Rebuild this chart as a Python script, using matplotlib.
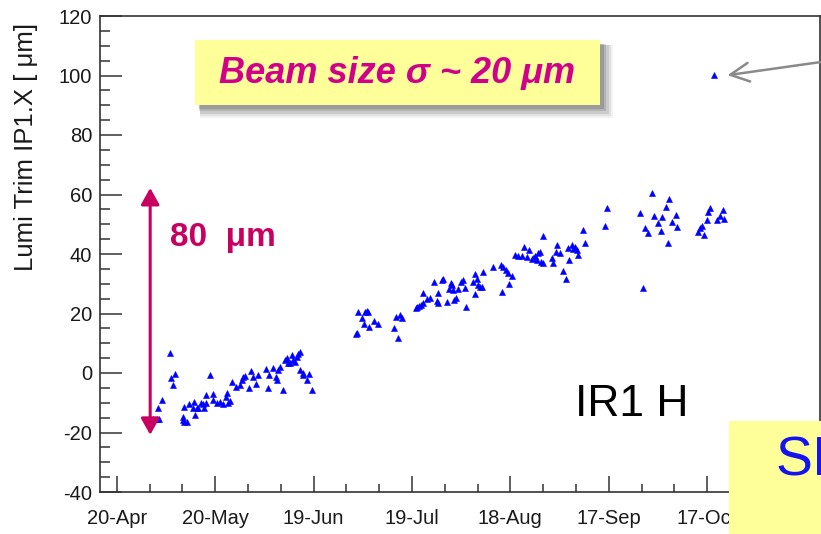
import numpy as np
import pandas as pd
import matplotlib
matplotlib.use("Agg")
import matplotlib.pyplot as plt
import matplotlib.dates as mdates
from matplotlib.patches import Rectangle
from matplotlib.ticker import FixedLocator, MultipleLocator

plt.rcParams['font.family'] = ['Liberation Sans', 'DejaVu Sans']
plt.rcParams['axes.unicode_minus'] = False

# ---- data: days since 20-Apr-2011 and lumi trim values [um]
base_date = "2011-04-20"
days = [11.2, 12.2, 13.0, 12.7, 13.7, 16.3, 16.6, 17.1, 17.8, 20.1, 20.6, 21.3, 20.3, 20.5,
        22.0, 23.6, 23.4, 24.4, 24.0, 25.6, 26.4, 27.2, 24.9, 26.6, 27.1, 28.4, 29.3, 29.5,
        30.7, 31.5, 32.3, 33.3, 33.5, 34.0, 34.5, 35.1, 36.4, 37.6, 38.1, 38.6, 39.1, 40.4,
        40.9, 41.6, 42.5, 43.2, 45.5, 46.3, 46.2, 47.7, 49.3, 49.8, 48.6, 49.0, 50.6, 51.3,
        51.8, 52.3, 52.8, 53.4, 53.8, 54.4, 54.9, 55.4, 55.9, 55.9, 56.7, 56.9, 57.9, 58.7,
        59.5,
        73.0, 73.2, 73.7, 75.7, 76.4, 76.7, 74.7, 75.4, 77.0, 78.5, 79.8, 84.6, 85.1, 86.4,
        86.9, 85.9, 91.2, 91.6, 92.3, 92.7, 93.5, 93.5, 94.7, 95.5, 96.8, 97.9, 98.0, 97.7,
        99.1, 99.6, 100.8, 101.4, 102.1, 101.8, 102.4, 102.8, 103.4, 104.0, 105.0, 105.5,
        106.2, 106.5, 108.7, 109.8, 109.2, 109.2, 110.2, 110.8, 111.3, 111.8, 114.8, 117.2,
        117.9, 118.7, 119.4, 120.4, 119.6, 117.6,
        121.4, 122.4, 123.5, 124.3, 125.0, 125.8, 126.5, 127.0, 127.5, 128.0, 128.5, 129.1,
        129.3, 129.9, 130.1, 132.6, 133.1, 134.1, 133.9, 135.2, 136.2, 137.0, 138.0, 137.7,
        138.7, 139.2, 139.7, 140.2, 140.7, 142.0, 142.8, 148.9, 149.6,
        163.1, 168.4, 167.4, 159.5, 163.8, 166.2, 170.5, 169.2, 164.9, 161.1, 170.7, 165.9,
        162.1, 168.2, 160.4,
        180.9, 180.4, 184.8, 183.9, 180.1, 183.1, 185.1, 178.4, 177.8, 177.3, 179.1,
        182.2]
values = [-15.6, -15.6, -15.6, -11.7, -9.1, 6.8, -1.6, -4.0, -0.2, -15.8, -16.4, -16.6, -14.7,
          -11.3, -10.4, -9.6, -11.9, -11.9, -14.1, -10.2, -10.4, -10.2, -11.9, -11.9, -7.4,
          -0.7, -7.1, -9.1, -10.2, -9.6, -10.4, -8.0, -6.8, -10.2, -9.3, -3.1, -4.8, -4.0,
          -2.4, -1.2, -1.0, -5.1, 0.7, -1.2, -3.7, -0.7, 1.4, -0.7, -5.1, 1.6, 1.0, 2.1, -1.2,
          -2.4, -5.7, 4.4, 4.9, 3.3, 3.3, 6.0, 4.4, 3.8, 5.5, 6.4, 7.2, 1.0, -0.7, -0.1, -2.4,
          -0.3, -5.7,
          13.1, 13.5, 20.6, 20.6, 20.8, 20.6, 18.4, 16.4, 15.6, 17.6, 16.5, 15.0, 18.9, 19.5,
          18.4, 11.7, 21.7, 22.3, 22.5, 22.8, 23.4, 26.8, 24.8, 25.1, 30.7, 26.8, 23.6, 24.3,
          31.3, 31.7, 24.0, 28.1, 29.6, 30.1, 27.9, 24.5, 25.1, 28.1, 30.7, 31.3, 28.5, 22.3,
          30.7, 31.5, 33.2, 26.5, 29.6, 29.0, 28.8, 34.0, 35.7, 36.3, 35.5, 34.6, 33.7, 32.7,
          29.8, 27.3,
          39.7, 39.3, 39.3, 42.4, 39.1, 41.3, 38.2, 38.5, 39.3, 38.0, 40.4, 40.8, 37.4, 36.9,
          46.0, 38.5, 36.9, 43.0, 40.8, 40.2, 34.4, 31.6, 38.0, 41.9, 43.0, 41.6, 42.4, 41.3,
          39.7, 48.1, 43.6, 49.4, 55.3,
          60.4, 58.4, 55.7, 53.7, 52.9, 52.3, 53.1, 50.8, 50.3, 48.8, 49.0, 47.7, 46.9, 43.6,
          28.7,
          55.3, 54.2, 54.8, 52.8, 51.4, 51.4, 51.7, 49.4, 48.6, 47.5, 46.4,
          100.1]

major_tick_days = [0, 30, 60, 90, 120, 150, 180]
x_range_days = [-5.1, 214.4]
y_range = [-40, 120]
y_label = "Lumi Trim IP1.X [ \u03bcm]"
box_text = "Beam size \u03c3 ~ 20 \u03bcm"
span_text = "80  \u03bcm"
span_ends = [62.2, -20.8]
span_day = 10.2
panel_text = "IR1 H"
corner_text = "SI"

W, H = 821, 534
fig = plt.figure(figsize=(W / 100, H / 100), dpi=100)
ax = fig.add_axes([100 / W, (H - 492) / H, 720 / W, 476 / H])

t0 = mdates.date2num(pd.Timestamp(base_date))
x = t0 + np.array(days)
ax.plot(x, values, linestyle='none', marker='^', markersize=4.0,
        color='#0000ff', markeredgewidth=0.4, zorder=3)

ax.set_xlim(t0 + x_range_days[0], t0 + x_range_days[1])
ax.set_ylim(*y_range)

ax.xaxis.set_major_locator(FixedLocator([t0 + d for d in major_tick_days]))
ax.xaxis.set_major_formatter(mdates.DateFormatter('%d-%b'))
ax.xaxis.set_minor_locator(FixedLocator([t0 + d for d in range(0, 211, 10)]))
ax.yaxis.set_major_locator(MultipleLocator(20))
ax.yaxis.set_minor_locator(MultipleLocator(5))

ax.tick_params(axis='both', which='both', direction='in', color='#333333', width=1.1,
               labelsize=14.5, labelcolor='#1a1a1a')
ax.tick_params(axis='y', which='major', length=15.5, pad=5.5)
ax.tick_params(axis='y', which='minor', length=7.5)
ax.tick_params(axis='x', which='major', length=11.5, pad=12.5)
ax.tick_params(axis='x', which='minor', length=5.5)
for s in ax.spines.values():
    s.set_color('#333333')
    s.set_linewidth(1.2)

ax.set_ylabel(y_label, fontsize=18.5, color='#1a1a1a')
ax.yaxis.set_label_coords(-0.086, 0.725)

# double-headed span arrow
ax.annotate('', xy=(t0 + span_day, span_ends[0]), xytext=(t0 + span_day, span_ends[1]),
            arrowprops=dict(arrowstyle='<|-|>,head_length=0.5,head_width=0.28',
                            mutation_scale=20, color='#c8005f', lw=2.2,
                            shrinkA=0, shrinkB=0), zorder=4)
ax.text(t0 + span_day + 6, 45.4, span_text, fontsize=24, fontweight='bold',
        color='#c8005f', va='center', ha='left')

ax.text(t0 + 157, -10.5, panel_text, fontsize=32, color='black', ha='center', va='center')

# gray arrow pointing at outlier
ax.annotate('', xy=(t0 + days[-1] + 4, values[-1]), xycoords='data',
            xytext=(1.0, (H - 62) / H), textcoords='figure fraction',
            arrowprops=dict(arrowstyle='->,head_length=0.9,head_width=0.45',
                            mutation_scale=15, color='#8a8a8a', lw=1.8,
                            shrinkA=0, shrinkB=0), annotation_clip=False)

# yellow box with shadow
bx0, by0, bx1, by1 = 195, 40, 600, 105
for i, a in enumerate([0.08, 0.12, 0.16, 0.22, 0.28]):
    off = 9 - i * 1.2
    grow = 4 - i
    fig.add_artist(Rectangle(((bx0 + off - grow) / W, (H - by1 - off - grow) / H),
                             (bx1 - bx0 + 2 * grow) / W, (by1 - by0 + 2 * grow) / H,
                             transform=fig.transFigure, facecolor='#606060',
                             edgecolor='none', alpha=a, zorder=4))
fig.add_artist(Rectangle((bx0 / W, (H - by1) / H), (bx1 - bx0) / W, (by1 - by0) / H,
                         transform=fig.transFigure, facecolor='#ffff99',
                         edgecolor='none', zorder=5))
fig.text((bx0 + bx1) / 2 / W, (H - 73) / H, box_text, fontsize=26, fontweight='bold',
         fontstyle='italic', color='#d0008a', ha='center', va='center', zorder=6)

# corner box
fig.add_artist(Rectangle((729 / W, 0), (W - 729) / W, (H - 421) / H,
                         transform=fig.transFigure, facecolor='#ffff99',
                         edgecolor='none', zorder=5))
fig.text(776 / W, (H - 462) / H, corner_text, fontsize=40, color='#1414f0',
         ha='left', va='center', zorder=6)

fig.savefig('out.png', dpi=100)
